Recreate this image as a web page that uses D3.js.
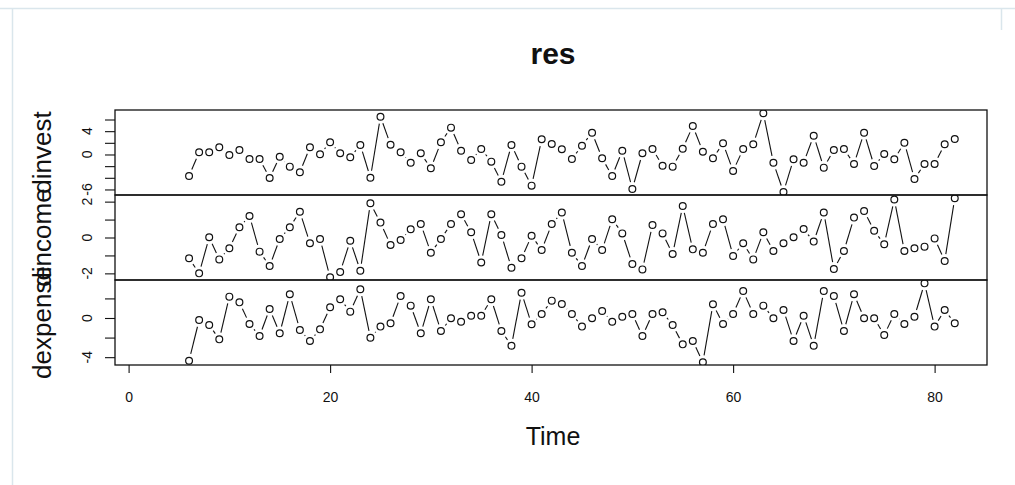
<!DOCTYPE html>
<html>
<head>
<meta charset="utf-8">
<script src="https://cdn.jsdelivr.net/npm/d3@7"></script>
<style>
body{margin:0;background:#fff;}
text{font-family:"Liberation Sans",Arial,sans-serif;fill:#111;}
</style>
</head>
<body>
<script>
// residuals, time 6..82
var time = d3.range(6, 83);
var invest = [-3.69,0.38,0.38,1.23,-0.09,0.77,-0.77,-0.77,-4.03,-0.38,-2.09,-3.05,1.23,0.03,2.09,0.21,-0.48,1.63,-3.98,6.48,
  1.68,0.38,-1.41,0.21,-2.37,2.09,4.6,0.65,-0.94,0.94,-1.23,-4.67,1.63,-2.09,-5.35,2.61,1.8,0.89,-0.77,1.51,
  3.74,-0.65,-3.69,0.65,-5.92,0.21,0.94,-1.92,-2.09,0.99,4.89,0.48,-0.65,1.92,-2.83,0.94,1.75,7.07,-1.41,-6.45,
  -0.82,-1.41,3.22,-2.26,0.77,0.94,-1.63,3.74,-1.97,0.09,-0.82,2.02,-4.2,-1.63,-1.63,1.75,2.66];
var income = [-1.16,-2.0,0.01,-1.22,-0.6,0.57,1.2,-0.79,-1.59,-0.08,0.57,1.44,-0.32,-0.08,-2.22,-1.93,-0.18,-1.85,1.91,0.83,
  -0.42,-0.14,0.46,0.75,-0.85,-0.08,0.75,1.3,0.29,-1.39,1.3,0.14,-1.69,-1.16,0.1,-0.7,0.75,1.39,-0.85,-1.59,
  -0.08,-0.7,1.02,0.23,-1.48,-1.78,0.7,0.23,-0.92,1.76,-0.66,-0.85,0.75,1.02,-1.03,-0.32,-1.22,0.29,-0.75,-0.32,
  0.01,0.47,-0.23,1.39,-1.76,-0.75,1.11,1.48,0.38,-0.38,2.12,-0.75,-0.6,-0.51,-0.05,-1.31,2.19];
var dexpense = [-4.36,-0.2,-0.71,-2.18,2.18,1.6,-0.61,-1.84,0.92,-1.56,2.42,-1.22,-2.35,-1.16,1.09,1.91,0.65,2.93,-2.01,-0.88,
  -0.54,2.24,1.26,-1.56,1.91,-1.33,-0.03,-0.38,0.23,0.23,1.91,-1.33,-2.83,2.58,-0.64,0.41,1.77,1.43,0.41,-0.88,
  -0.03,0.71,-0.38,0.13,0.41,-1.84,0.41,0.58,-0.71,-2.69,-2.35,-4.52,1.4,-0.61,0.41,2.76,0.41,1.26,-0.03,0.82,
  -2.35,0.23,-2.83,2.76,2.24,-1.33,2.42,-0.03,-0.03,-1.73,0.41,-0.61,0.13,3.54,-0.88,0.82,-0.54];

var seriesNames = ["dinvest", "dincome", "dexpense"];
var xTicks = [0, 20, 40, 60, 80];
var investTicks = [-6, -4, -2, 0, 2, 4, 6], investLabels = [-6, 0, 4];
var incomeTicks = [-2, -1, 0, 1, 2], incomeLabels = [-2, 0, 2];
var dexpTicks = [-4, -2, 0, 2], dexpLabels = [-4, 0];

var W = 1015, H = 485;
var left = 115, right = 987;

var svg = d3.select("body").append("svg")
  .attr("width", W).attr("height", H);

svg.append("rect").attr("width", W).attr("height", H).attr("fill", "#fff");

// light frame of the page
svg.append("path")
  .attr("d", "M0,8.5H1015M12.5,8.5V485M1001.5,8.5V30")
  .attr("stroke", "#dae6ec").attr("stroke-width", 1.5).attr("fill", "none");

var x = d3.scaleLinear().domain([-1.35, 85.2]).range([left, right]);

var panels = [
  {name: seriesNames[0], values: invest, top: 110, bottom: 195, domain: [-6.95, 7.63], ticks: investTicks, labels: investLabels},
  {name: seriesNames[1], values: income, top: 195, bottom: 280, domain: [-2.37, 2.37], ticks: incomeTicks, labels: incomeLabels},
  {name: seriesNames[2], values: dexpense, top: 280, bottom: 365, domain: [-4.80, 3.88], ticks: dexpTicks, labels: dexpLabels}
];

function gapSegments(pts, gap) {
  var segs = [];
  for (var i = 1; i < pts.length; i++) {
    var a = pts[i - 1], b = pts[i];
    var dx = b[0] - a[0], dy = b[1] - a[1], len = Math.sqrt(dx * dx + dy * dy);
    if (len <= 2 * gap) continue;
    var ux = dx / len, uy = dy / len;
    segs.push([a[0] + ux * gap, a[1] + uy * gap, b[0] - ux * gap, b[1] - uy * gap]);
  }
  return segs;
}

panels.forEach(function (p, k) {
  var y = d3.scaleLinear().domain(p.domain).range([p.bottom, p.top]);

  var clipId = "clip" + k;
  svg.append("clipPath").attr("id", clipId)
    .append("rect").attr("x", left).attr("y", p.top)
    .attr("width", right - left).attr("height", p.bottom - p.top);

  var g = svg.append("g").attr("clip-path", "url(#" + clipId + ")");
  var pts = p.values.map(function (v, i) { return [x(time[i]), y(v)]; });

  g.selectAll("line.seg").data(gapSegments(pts, 7)).enter().append("line")
    .attr("x1", d => d[0]).attr("y1", d => d[1])
    .attr("x2", d => d[2]).attr("y2", d => d[3])
    .attr("stroke", "#111").attr("stroke-width", 1.1);

  g.selectAll("circle").data(pts).enter().append("circle")
    .attr("cx", d => d[0]).attr("cy", d => d[1]).attr("r", 3.4)
    .attr("fill", "none").attr("stroke", "#111").attr("stroke-width", 1.2);

  // y axis ticks
  var ax = svg.append("g").attr("transform", "translate(" + left + ",0)")
    .call(d3.axisLeft(y).tickValues(p.ticks).tickSize(10).tickFormat(""));
  ax.select(".domain").remove();
  ax.selectAll("line").attr("stroke", "#111").attr("stroke-width", 1.1);

  svg.selectAll("text.yl" + k).data(p.labels).enter().append("text")
    .attr("transform", d => "translate(92," + y(d) + ") rotate(-90)")
    .attr("text-anchor", "middle").style("font-size", "14px")
    .text(d => d);

  // series name
  svg.append("text")
    .attr("transform", "translate(51," + ((p.top + p.bottom) / 2) + ") rotate(-90)")
    .attr("text-anchor", "middle").style("font-size", "26px")
    .text(p.name);

  svg.append("rect").attr("x", left).attr("y", p.top)
    .attr("width", right - left).attr("height", p.bottom - p.top)
    .attr("fill", "none").attr("stroke", "#111").attr("stroke-width", 1.3);
});

// x axis
var xa = svg.append("g").attr("transform", "translate(0,365)")
  .call(d3.axisBottom(x).tickValues(xTicks).tickSize(8).tickPadding(19));
xa.select(".domain").remove();
xa.selectAll("line").attr("stroke", "#111").attr("stroke-width", 1.1);
xa.selectAll("text").style("font-size", "14px")
  .style("font-family", "'Liberation Sans',Arial,sans-serif").attr("fill", "#111");

svg.append("text").attr("x", 553).attr("y", 445)
  .attr("text-anchor", "middle").style("font-size", "25px").text("Time");

svg.append("text").attr("x", 553).attr("y", 64)
  .attr("text-anchor", "middle").style("font-size", "30px").style("font-weight", "bold").text("res");
</script>
</body>
</html>
